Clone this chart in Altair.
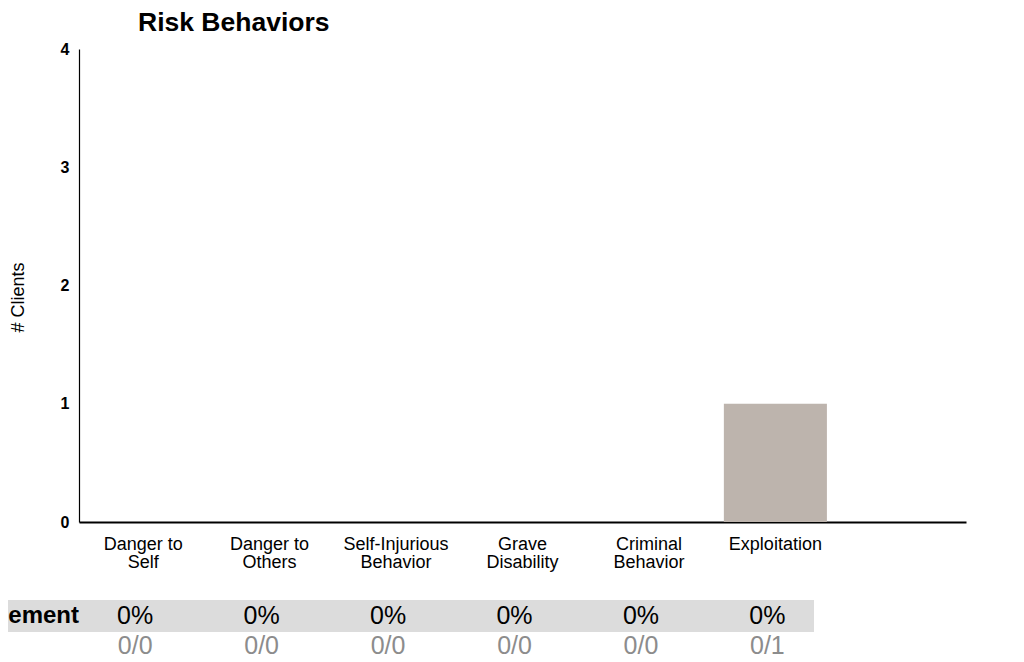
import altair as alt
import pandas as pd

# ---- data ----
categories = ["Danger to Self", "Danger to Others", "Self-Injurious Behavior",
              "Grave Disability", "Criminal Behavior", "Exploitation"]
tick_lines = [["Danger to", "Self"], ["Danger to", "Others"], ["Self-Injurious", "Behavior"],
              ["Grave", "Disability"], ["Criminal", "Behavior"], ["Exploitation"]]
clients = [0, 0, 0, 0, 0, 1]
pct_labels = ["0%", "0%", "0%", "0%", "0%", "0%"]
frac_labels = ["0/0", "0/0", "0/0", "0/0", "0/0", "0/1"]
row_label = "ement"
y_ticks = [0, 1, 2, 3, 4]
blank_slot = " "

FONT = "Liberation Sans"

domain = categories + [blank_slot]
bars = pd.DataFrame({"category": categories, "clients": clients})
table = pd.DataFrame({"category": categories, "pct": pct_labels, "frac": frac_labels,
                      "row_pct": "pct", "row_frac": "frac"})
band_df = pd.DataFrame({"row": ["pct"], "label": [row_label]})

label_map = "{" + ", ".join(
    "'" + c + "': " + "[" + ", ".join("'" + l + "'" for l in lines) + "]"
    for c, lines in zip(categories, tick_lines)) + "}"
label_expr = f"({label_map})[datum.value] || ''"

xscale = alt.Scale(domain=domain, paddingInner=0.185, paddingOuter=0.1)
xenc = alt.X("category:N", scale=xscale, sort=domain,
             axis=alt.Axis(title=None, labelAngle=0, ticks=False, domainColor="black",
                           domainWidth=2, labelFontSize=18, labelColor="black",
                           labelFont=FONT, labelPadding=13, labelLineHeight=18,
                           labelExpr=label_expr, labelLimit=300, grid=False))

bar_layer = alt.Chart(bars).mark_bar(color="#bdb4ad").encode(
    x=xenc,
    y=alt.Y("clients:Q", scale=alt.Scale(domain=[0, 4], nice=False),
            axis=alt.Axis(title="# Clients", values=y_ticks, format="d", ticks=False,
                          grid=False, domainColor="black", domainWidth=1.2,
                          labelFontSize=16, labelFontWeight="bold", labelColor="black",
                          labelFont=FONT, labelPadding=10, titleFont=FONT,
                          titleFontSize=18, titleFontWeight="normal", titleColor="black",
                          titlePadding=33, titleY=248)),
)

tscale = alt.Scale(type="band", domain=["pct", "frac"], range=[551, 615],
                   paddingInner=0, paddingOuter=0)

band_layer = alt.Chart(band_df).mark_rect(color="#dcdcdc").encode(
    x=alt.value(-80), x2=alt.value(735),
    y=alt.Y("row:N", scale=tscale, axis=None),
)
row_text = alt.Chart(band_df).mark_text(align="right", font=FONT, fontSize=24,
                                        fontWeight="bold", color="black").encode(
    x=alt.value(0),
    y=alt.Y("row:N", scale=tscale, axis=None),
    text="label:N",
)
pct_text = alt.Chart(table).mark_text(font=FONT, fontSize=25, color="black", dx=-8).encode(
    x=alt.X("category:N", scale=xscale, sort=domain),
    y=alt.Y("row_pct:N", scale=tscale, axis=None),
    text="pct:N",
)
frac_text = alt.Chart(table).mark_text(font=FONT, fontSize=25, color="#8c8c8c", dx=-8,
                                       dy=-2).encode(
    x=alt.X("category:N", scale=xscale, sort=domain),
    y=alt.Y("row_frac:N", scale=tscale, axis=None),
    text="frac:N",
)

chart = alt.layer(bar_layer, band_layer, row_text, pct_text, frac_text).resolve_scale(
    y="independent"
).properties(
    width=887, height=473,
    title=alt.TitleParams("Risk Behaviors", anchor="start", dx=139, font=FONT,
                          fontSize=26.5, fontWeight="bold", color="black", offset=5),
    autosize=alt.AutoSizeParams(type="none"),
    padding={"left": 71, "top": 41, "right": 20, "bottom": 138},
).configure(background="white").configure_view(strokeWidth=0, stroke="transparent")

chart.save("out.html", embed_options={"renderer": "svg", "actions": False})
